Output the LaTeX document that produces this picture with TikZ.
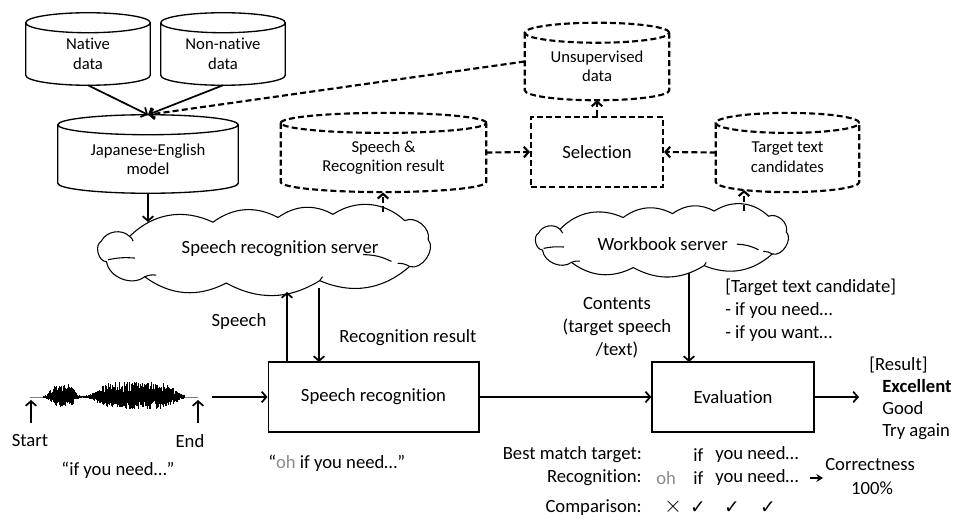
\documentclass[tikz,border=0pt]{standalone}
\usepackage{fontspec}
\setmainfont{Carlito}[Ligatures={NoCommon}]
\newfontfamily\symfont{DejaVu Sans}
\usetikzlibrary{arrows.meta,calc}
\definecolor{ohgray}{gray}{0.55}
\newcommand\cylry{7.5pt}
\newcommand\cylout[2][]{%
  \draw[cylline,#1] let \p1=(#2.north west), \p2=(#2.south east), \n1={(\x2-\x1)/2} in
    (\x1,\y1-\cylry) -- (\x1,\y2+\cylry)
    arc[start angle=180, end angle=360, x radius=\n1, y radius=\cylry]
    -- (\x2,\y1-\cylry)
    (\x1+\n1,\y1-\cylry) ellipse[x radius=\n1, y radius=\cylry];}
% office-like cloud outline drawn in unit box (u right, v down)
\newcommand\cloudout[3]{% name, width pt, height pt
  \begin{scope}[shift={(#1.north west)}, x=#2, y=-#3, cloudline]
  \draw (0.094,0.30) to[bend left=35] (0.332,0.12) to[bend left=32] (0.518,0.06)
     to[bend left=32] (0.675,0.02) to[bend left=38] (0.88,0.10) to[bend left=65] (0.947,0.34)
     to[bend left=75] (0.894,0.68) to[bend left=32] (0.637,0.86) to[bend left=30] (0.37,0.89)
     to[bend left=32] (0.137,0.81) to[bend left=60] (0.028,0.62) to[bend left=75] (0.013,0.36)
     to[bend left=55] (0.094,0.30) -- cycle;
  \draw (0.094,0.30) to[bend left=20] (0.104,0.36);
  \draw (0.032,0.595) to[bend left=8] (0.109,0.574);
  \draw (0.761,0.53) to[bend left=12] (0.842,0.616);
  \draw (0.894,0.68) to[bend right=15] (0.86,0.64);
  \draw (0.137,0.81) to[bend left=15] (0.17,0.79);
  \draw (0.637,0.86) to[bend right=15] (0.645,0.81);
  \end{scope}}
\tikzset{
  txt/.style={font=\fontsize{14}{17.3}\selectfont, inner sep=0pt},
  cyltxt/.style={font=\fontsize{12.5}{14.5}\selectfont, align=center, inner sep=0pt},
  cylbody/.style={inner sep=0pt},
  cylline/.style={line width=1pt},
  cloudline/.style={line width=0.8pt},
  dsh/.style={line width=1.6pt, dash pattern=on 4.5pt off 2.4pt},
  boxs/.style={draw, line width=1pt, txt},
  cloudbox/.style={inner sep=0pt},
  arr/.style={line width=1.3pt, -{Straight Barb[length=3.5pt,width=8pt]}},
  darr/.style={dsh, -{Straight Barb[length=3.5pt,width=8pt]}},
  wave/.style={line width=0.3pt, black},
  xmark/.style={inner sep=0pt, text height=10pt, text depth=0pt, font=\fontsize{19}{19}\selectfont},
  ckmark/.style={inner sep=0pt, text height=9pt, text depth=0pt, font=\symfont\fontsize{14}{16}\selectfont}
}
\begin{document}
\begin{tikzpicture}[x=0.75pt,y=-0.75pt]
\useasboundingbox (0,0) rectangle (955,517);

% cylinders
\node[cylbody, minimum width=93pt, minimum height=54pt,
  label={[cyltxt,yshift=-3.5pt]center:Native\\data}] (nat) at (88,49) {};
\cylout{nat}
\node[cylbody, minimum width=93pt, minimum height=54pt,
  label={[cyltxt,yshift=-3.5pt]center:Non-native\\data}] (nn) at (223,49) {};
\cylout{nn}
\node[cylbody, minimum width=135pt, minimum height=58.5pt,
  label={[cyltxt,yshift=-4pt]center:Japanese-English\\model}] (jem) at (148,154) {};
\cylout{jem}
\node[cylbody, minimum width=153.75pt, minimum height=59pt,
  label={[cyltxt,yshift=-4pt]center:Speech \&\\Recognition result}] (srr) at (383.5,152.5) {};
\cylout[dsh]{srr}
\node[cylbody, minimum width=108pt, minimum height=57.75pt,
  label={[cyltxt,yshift=-3.5pt]center:Unsupervised\\data}] (uns) at (597,61.5) {};
\cylout[dsh]{uns}
\node[cylbody, minimum width=107.25pt, minimum height=59pt,
  label={[cyltxt,yshift=-3.5pt]center:Target text\\candidates}] (ttc) at (787.5,152.5) {};
\cylout[dsh]{ttc}

% selection
\node[txt, draw, dsh, minimum width=99pt, minimum height=52.5pt] (sel) at (597,152) {Selection};

% clouds
\node[cloudbox, minimum width=262.5pt, minimum height=59.25pt,
  label={[txt,xshift=6pt,yshift=3pt]center:Speech recognition server}] (srs) at (272,252.5) {};
\cloudout{srs}{262.5pt}{59.25pt}
\node[cloudbox, minimum width=199pt, minimum height=48.75pt,
  label={[txt,xshift=-4pt,yshift=-1.5pt]center:Workbook server}] (wbs) at (668,242.5) {};
\cloudout{wbs}{199pt}{48.75pt}

% boxes
\node[boxs, minimum width=158pt, minimum height=52.5pt] (srbox) at (373.5,397) {Speech recognition};
\node[boxs, minimum width=121.5pt, minimum height=52.5pt] (eval) at (733,397) {Evaluation};

% waveform
\draw[line width=0.5pt, gray] (30,397) -- (198,397);
\pgfmathsetseed{11}
\foreach \i in {0,...,300}{
  \pgfmathsetmacro\xx{43+\i*0.47}
  \pgfmathsetmacro\env{1.5+12*exp(-min(((\xx-62)/13)^4,9))+14*exp(-min(((\xx-136)/40)^6,9))}
  \pgfmathsetmacro\ra{\env*(0.3+0.7*rnd)}
  \pgfmathsetmacro\rb{\env*(0.2+0.6*rnd)}
  \draw[wave] (\xx,397-\ra) -- (\xx,397+\rb);
}
\node[txt] (start) at (30,441) {Start};
\node[txt] (end) at (190,441) {End};
\coordinate (st1) at (31,423);
\coordinate (st2) at (31,400);
\coordinate (en1) at (198,423);
\coordinate (en2) at (198,400);
\draw[arr] (st1) -- (st2);
\draw[arr] (en1) -- (en2);
\node[txt] (quote1) at (118,470) {“if you need…”};
\coordinate (wvend) at (212,397);

% connectors top
\draw[arr] (nat.south) -- (jem.north);
\draw[arr] (nn.south) -- (jem.north);
\draw[darr] (uns.west) -- (jem.north);
\coordinate (c1) at (148,222);
\draw[arr] (jem.south) -- (c1);
\coordinate (c2) at (383,212);
\coordinate (c3) at (383,192.5);
\draw[darr] (c2) -- (c3);
\draw[darr] (srr.east) -- (sel.west);
\draw[darr] (sel.north) -- (uns.south);
\draw[darr] (ttc.west) -- (sel.east);
\coordinate (c4) at (744,211);
\coordinate (c5) at (744,190);
\draw[darr] (c4) -- (c5);

% middle connectors
\coordinate (sp1) at (287,362);
\coordinate (sp2) at (287,292);
\draw[arr] (sp1) -- (sp2);
\coordinate (rr1) at (319,288);
\coordinate (rr2) at (319,362);
\draw[arr] (rr1) -- (rr2);
\node[txt] (speechlbl) at (239,322) {Speech};
\node[txt, anchor=west] (recreslbl) at (339,338) {Recognition result};
\draw[arr] (wvend) -- (srbox.west);
\draw[arr] (srbox.east) -- (eval.west);
\coordinate (resarr) at (859,397);
\draw[arr] (eval.east) -- (resarr);
\coordinate (ct1) at (689,273);
\coordinate (ct2) at (689,362);
\draw[arr] (ct1) -- (ct2);
\node[txt, align=center] (contents) at (617,328) {Contents\\(target speech\\/text)};
\node[txt, align=left, anchor=west] (ttclist) at (725,310) {[Target text candidate]\\- if you need…\\- if you want…};

% results
\node[txt, anchor=west] (resl) at (869,365) {[Result]};
\node[txt, anchor=west, align=left, font=\fontsize{14}{16.5}\selectfont] (resvals) at (882,410) {\textbf{Excellent}\\Good\\Try again};

\node[txt, anchor=west] (quote2) at (268,463) {“\textcolor{ohgray}{oh} if you need…”};

% comparison table
\node[txt, anchor=east] (bmt) at (642,455) {Best match target:};
\node[txt, anchor=east] (rec) at (642,478) {Recognition:};
\node[txt, anchor=east] (cmp) at (642,508) {Comparison:};
\node[txt, anchor=west] (bmtif) at (693,455) {if};
\node[txt, anchor=west] (bmtyou) at (715,455) {you need…};
\node[txt, anchor=west, text=ohgray] (recoh) at (656,478) {oh};
\node[txt, anchor=west] (recif) at (693,478) {if};
\node[txt, anchor=west] (recyou) at (715,478) {you need…};
\node[xmark] (x1) at (673,506) {$\times$};
\node[ckmark] (k1) at (698,507) {✓};
\node[ckmark] (k2) at (732,507) {✓};
\node[ckmark] (k3) at (768,507) {✓};
\node[txt, anchor=west] (corr) at (825,465) {Correctness};
\node[txt] (pct) at (872,488) {100\%};
\coordinate (ca1) at (810,478);
\coordinate (ca2) at (823,478);
\draw[line width=1.3pt, -{Stealth[length=5pt,width=6pt]}] (ca1) -- (ca2);
\end{tikzpicture}
\end{document}
